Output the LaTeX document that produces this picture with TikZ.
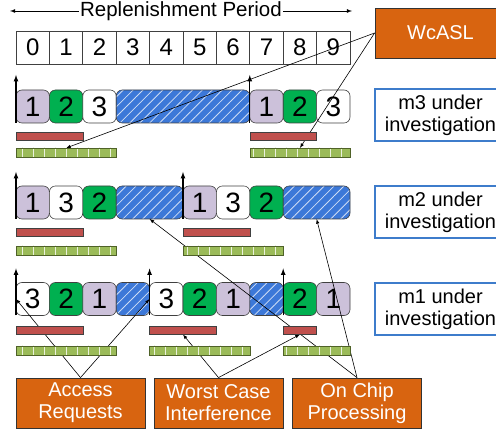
\documentclass[tikz,border=0pt]{standalone}
\usepackage{fontspec}
\setmainfont{Liberation Sans}
\usepackage{tikz}
\usetikzlibrary{positioning}
\usetikzlibrary{patterns.meta, arrows}

\definecolor{lavender}{HTML}{CCC1DA}
\definecolor{grnblk}{HTML}{00B050}
\definecolor{hatchblue}{HTML}{3C78D8}
\definecolor{barred}{HTML}{C0504D}
\definecolor{bargreen}{HTML}{9BBB59}
\definecolor{bardark}{HTML}{4F6228}
\definecolor{boxorange}{HTML}{D86410}
\definecolor{lblblue}{HTML}{3E7CCB}
\definecolor{edgegray}{HTML}{404040}

\pgfdeclarelayer{front}
\pgfsetlayers{main,front}

\begin{document}
\begin{tikzpicture}[x=1pt, y=1pt, >=latex,
    cell/.style={draw=edgegray, line width=0.8pt, minimum width=33.4pt, minimum height=33pt, inner sep=0pt, font=\fontsize{24}{24}\selectfont},
    blk/.style={draw=edgegray, line width=0.6pt, rounded corners=6pt, minimum width=33.4pt, minimum height=33pt, inner sep=0pt, outer sep=0pt, font=\fontsize{28}{28}\selectfont},
    lav/.style={blk, fill=lavender},
    grn/.style={blk, fill=grnblk},
    wht/.style={blk, fill=white},
    hatch/.style={blk, preaction={fill=hatchblue}, pattern={Lines[angle=45, distance=7pt, line width=0.8pt]}, pattern color=white!75!hatchblue},
    redbar/.style={draw=edgegray, line width=0.6pt, fill=barred, minimum height=8pt, inner sep=0pt, outer sep=0pt},
    grnbar/.style={draw=bardark, line width=0.6pt, preaction={fill=bargreen}, pattern={Lines[angle=90, distance=11pt, line width=1pt]}, pattern color=white!80!bargreen, minimum height=9pt, inner sep=0pt, outer sep=0pt},
    lbl/.style={draw=lblblue, line width=2pt, fill=white, minimum width=131pt, minimum height=52pt, align=center, inner sep=0pt, font=\fontsize{20}{22}\selectfont},
    orbox/.style={draw=black!80, line width=0.8pt, fill=boxorange, text=white, minimum width=129pt, minimum height=50pt, align=center, inner sep=0pt, font=\fontsize{20}{22}\selectfont},
    uparrow/.style={->, line width=1.2pt},
    link/.style={->, line width=0.6pt}]
    \useasboundingbox (0,0) rectangle (496,431);
    \clip (0,0) rectangle (496,431);

    % replenishment period
    \node[inner sep=1pt, font=\fontsize{20.5}{24}\selectfont] (title) at (181,420) {Replenishment Period};
    \coordinate (pl) at (10,420);
    \coordinate (pr) at (352,420);
    \draw[->, line width=0.8pt] (title.west) -- (pl);
    \draw[->, line width=0.8pt] (title.east) -- (pr);
    \foreach \i in {0,...,9}
        \node[cell] (t\i) at (32.7+33.4*\i, 383.5) {\i};

    % m3 row
    \node[lav] (m3a) at (32.7,324.5) {1};
    \node[grn, right=0pt of m3a] (m3b) {2};
    \node[wht, right=0pt of m3b] (m3c) {3};
    \node[hatch, minimum width=133.6pt, right=0pt of m3c] (m3d) {};
    \node[lav, right=0pt of m3d] (m3e) {1};
    \node[grn, right=0pt of m3e] (m3f) {2};
    \node[wht, right=0pt of m3f] (m3g) {3};

    % m2 row
    \node[lav] (m2a) at (32.7,228.5) {1};
    \node[wht, right=0pt of m2a] (m2b) {3};
    \node[grn, right=0pt of m2b] (m2c) {2};
    \node[hatch, minimum width=66.8pt, right=0pt of m2c] (m2d) {};
    \node[lav, right=0pt of m2d] (m2e) {1};
    \node[wht, right=0pt of m2e] (m2f) {3};
    \node[grn, right=0pt of m2f] (m2g) {2};
    \node[hatch, minimum width=66.8pt, right=0pt of m2g] (m2h) {};

    % m1 row
    \node[wht] (m1a) at (32.7,132) {3};
    \node[grn, right=0pt of m1a] (m1b) {2};
    \node[lav, right=0pt of m1b] (m1c) {1};
    \node[hatch, right=0pt of m1c] (m1d) {};
    \node[wht, right=0pt of m1d] (m1e) {3};
    \node[grn, right=0pt of m1e] (m1f) {2};
    \node[lav, right=0pt of m1f] (m1g) {1};
    \node[hatch, right=0pt of m1g] (m1h) {};
    \node[grn, right=0pt of m1h] (m1i) {2};
    \node[lav, right=0pt of m1i] (m1j) {1};

    \draw[uparrow] (m3a.south west) -- ++(0,48);
    \draw[uparrow] (m3e.south west) -- ++(0,48);
    \draw[uparrow] (m2a.south west) -- ++(0,47);
    \draw[uparrow] (m2e.south west) -- ++(0,47);
    \draw[uparrow] (m1a.south west) -- ++(0,47);
    \draw[uparrow] (m1e.south west) -- ++(0,47);
    \draw[uparrow] (m1i.south west) -- ++(0,47);

    % bars
    \begin{pgfonlayer}{front}
    \node[redbar, minimum width=66.8pt, below right=9pt and 0pt of m3a.south west] (r3a) {};
    \node[grnbar, minimum width=100.2pt, below right=8pt and 0pt of r3a.south west] (g3a) {};
    \node[redbar, minimum width=66.8pt, below right=9pt and 0pt of m3e.south west] (r3b) {};
    \node[grnbar, minimum width=100.2pt, below right=8pt and 0pt of r3b.south west] (g3b) {};
    \node[redbar, minimum width=66.8pt, below right=9pt and 0pt of m2a.south west] (r2a) {};
    \node[grnbar, minimum width=100.2pt, below right=10pt and 0pt of r2a.south west] (g2a) {};
    \node[redbar, minimum width=66.8pt, below right=9pt and 0pt of m2e.south west] (r2b) {};
    \node[grnbar, minimum width=100.2pt, below right=10pt and 0pt of r2b.south west] (g2b) {};
    \node[redbar, minimum width=66.8pt, below right=11pt and 0pt of m1a.south west] (r1a) {};
    \node[grnbar, minimum width=100.2pt, below right=11.5pt and 0pt of r1a.south west] (g1a) {};
    \node[redbar, minimum width=66.8pt, below right=11pt and 0pt of m1e.south west] (r1b) {};
    \node[grnbar, minimum width=100.2pt, below right=11.5pt and 0pt of r1b.south west] (g1b) {};
    \node[redbar, minimum width=33.4pt, below right=11pt and 0pt of m1i.south west] (r1c) {};
    \node[grnbar, minimum width=66.8pt, below right=11.5pt and 0pt of r1c.south west] (g1c) {};
    \end{pgfonlayer}

    % labels
    \node[orbox, minimum width=131pt] (wcasl) at (440.5,398) {WcASL};
    \node[lbl] (l3) at (440.5,316) {m3 under\\investigation};
    \node[lbl] (l2) at (440.5,218.5) {m2 under\\investigation};
    \node[lbl] (l1) at (440.5,122) {m1 under\\investigation};
    \node[orbox] (acc) at (80.5,28) {Access\\Requests};
    \node[orbox] (wci) at (218.5,28) {Worst Case\\Interference};
    \node[orbox] (ocp) at (357,28) {On Chip\\Processing};

    % connectors
    \draw[link] (wcasl.west) -- (g3a.north);
    \draw[link] (wcasl.west) -- (g3b.north);
    \draw[link] (acc.north) -- (m1a.west);
    \draw[link] (acc.north) -- (m1d.east);
    \draw[link] (wci.north) -- (r1b.south);
    \draw[link] (wci.north) -- (r1c.south);
    \draw[link] (ocp.north) -- (m2d.south);
    \draw[link] (ocp.north) -- (m2h.south);
\end{tikzpicture}
\end{document}
